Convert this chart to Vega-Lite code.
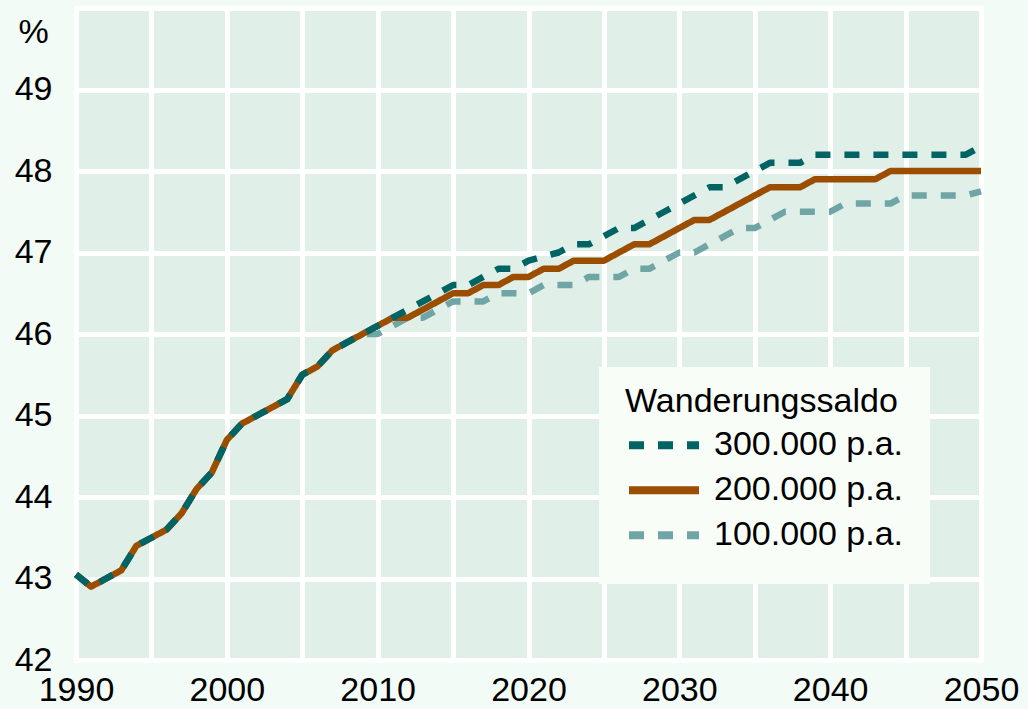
{
  "$schema": "https://vega.github.io/schema/vega-lite/v6.json",
  "width": 905,
  "height": 652,
  "autosize": {"type": "none"},
  "padding": {"left": 76, "top": 8, "right": 47, "bottom": 49},
  "background": "#f2fbf5",
  "config": {
    "font": "Liberation Sans",
    "view": {"fill": "#e0efe7", "stroke": null},
    "axis": {
      "domain": false, "ticks": false, "tickSize": 0, "grid": true, "gridColor": "#ffffff", "gridWidth": 5,
      "gridOpacity": 1, "gridCap": "square", "labelFontSize": 34, "labelColor": "#000000",
      "labelFont": "Liberation Sans", "labelOverlap": false, "labelFlush": false
    },
    "legend": {
      "orient": "none", "legendX": 523, "legendY": 359,
      "fillColor": "#f8fdf8", "padding": 26,
      "titleFontSize": 34, "titleFont": "Liberation Sans", "titleFontWeight": "normal", "titleColor": "#000000",
      "titleBaseline": "line-top", "titleLineHeight": 18, "titlePadding": -4, "titleLimit": 500,
      "labelFontSize": 34, "labelFont": "Liberation Sans", "labelColor": "#000000", "labelOffset": 11, "labelLimit": 500,
      "symbolType": "stroke", "symbolSize": 4900, "symbolStrokeWidth": 8, "clipHeight": 44.5, "rowPadding": 0
    }
  },
  "data": {"values": [
    {"year":1990,"s":"100.000 p.a.","v":43.05},{"year":1991,"s":"100.000 p.a.","v":42.9},{"year":1992,"s":"100.000 p.a.","v":43.0},{"year":1993,"s":"100.000 p.a.","v":43.1},{"year":1994,"s":"100.000 p.a.","v":43.4},{"year":1995,"s":"100.000 p.a.","v":43.5},{"year":1996,"s":"100.000 p.a.","v":43.6},{"year":1997,"s":"100.000 p.a.","v":43.8},{"year":1998,"s":"100.000 p.a.","v":44.1},{"year":1999,"s":"100.000 p.a.","v":44.3},
    {"year":2000,"s":"100.000 p.a.","v":44.7},{"year":2001,"s":"100.000 p.a.","v":44.9},{"year":2002,"s":"100.000 p.a.","v":45.0},{"year":2003,"s":"100.000 p.a.","v":45.1},{"year":2004,"s":"100.000 p.a.","v":45.2},{"year":2005,"s":"100.000 p.a.","v":45.5},{"year":2006,"s":"100.000 p.a.","v":45.6},{"year":2007,"s":"100.000 p.a.","v":45.8},{"year":2008,"s":"100.000 p.a.","v":45.9},{"year":2009,"s":"100.000 p.a.","v":46.0},
    {"year":2010,"s":"100.000 p.a.","v":46.0},{"year":2011,"s":"100.000 p.a.","v":46.1},{"year":2012,"s":"100.000 p.a.","v":46.2},{"year":2013,"s":"100.000 p.a.","v":46.2},{"year":2014,"s":"100.000 p.a.","v":46.3},{"year":2015,"s":"100.000 p.a.","v":46.4},{"year":2016,"s":"100.000 p.a.","v":46.4},{"year":2017,"s":"100.000 p.a.","v":46.4},{"year":2018,"s":"100.000 p.a.","v":46.5},{"year":2019,"s":"100.000 p.a.","v":46.5},
    {"year":2020,"s":"100.000 p.a.","v":46.5},{"year":2021,"s":"100.000 p.a.","v":46.6},{"year":2022,"s":"100.000 p.a.","v":46.6},{"year":2023,"s":"100.000 p.a.","v":46.6},{"year":2024,"s":"100.000 p.a.","v":46.7},{"year":2025,"s":"100.000 p.a.","v":46.7},{"year":2026,"s":"100.000 p.a.","v":46.7},{"year":2027,"s":"100.000 p.a.","v":46.8},{"year":2028,"s":"100.000 p.a.","v":46.8},{"year":2029,"s":"100.000 p.a.","v":46.9},
    {"year":2030,"s":"100.000 p.a.","v":47.0},{"year":2031,"s":"100.000 p.a.","v":47.0},{"year":2032,"s":"100.000 p.a.","v":47.1},{"year":2033,"s":"100.000 p.a.","v":47.2},{"year":2034,"s":"100.000 p.a.","v":47.3},{"year":2035,"s":"100.000 p.a.","v":47.3},{"year":2036,"s":"100.000 p.a.","v":47.4},{"year":2037,"s":"100.000 p.a.","v":47.5},{"year":2038,"s":"100.000 p.a.","v":47.5},{"year":2039,"s":"100.000 p.a.","v":47.5},
    {"year":2040,"s":"100.000 p.a.","v":47.5},{"year":2041,"s":"100.000 p.a.","v":47.6},{"year":2042,"s":"100.000 p.a.","v":47.6},{"year":2043,"s":"100.000 p.a.","v":47.6},{"year":2044,"s":"100.000 p.a.","v":47.6},{"year":2045,"s":"100.000 p.a.","v":47.7},{"year":2046,"s":"100.000 p.a.","v":47.7},{"year":2047,"s":"100.000 p.a.","v":47.7},{"year":2048,"s":"100.000 p.a.","v":47.7},{"year":2049,"s":"100.000 p.a.","v":47.7},{"year":2050,"s":"100.000 p.a.","v":47.75},

    {"year":1990,"s":"200.000 p.a.","v":43.05},{"year":1991,"s":"200.000 p.a.","v":42.9},{"year":1992,"s":"200.000 p.a.","v":43.0},{"year":1993,"s":"200.000 p.a.","v":43.1},{"year":1994,"s":"200.000 p.a.","v":43.4},{"year":1995,"s":"200.000 p.a.","v":43.5},{"year":1996,"s":"200.000 p.a.","v":43.6},{"year":1997,"s":"200.000 p.a.","v":43.8},{"year":1998,"s":"200.000 p.a.","v":44.1},{"year":1999,"s":"200.000 p.a.","v":44.3},
    {"year":2000,"s":"200.000 p.a.","v":44.7},{"year":2001,"s":"200.000 p.a.","v":44.9},{"year":2002,"s":"200.000 p.a.","v":45.0},{"year":2003,"s":"200.000 p.a.","v":45.1},{"year":2004,"s":"200.000 p.a.","v":45.2},{"year":2005,"s":"200.000 p.a.","v":45.5},{"year":2006,"s":"200.000 p.a.","v":45.6},{"year":2007,"s":"200.000 p.a.","v":45.8},{"year":2008,"s":"200.000 p.a.","v":45.9},{"year":2009,"s":"200.000 p.a.","v":46.0},
    {"year":2010,"s":"200.000 p.a.","v":46.1},{"year":2011,"s":"200.000 p.a.","v":46.2},{"year":2012,"s":"200.000 p.a.","v":46.2},{"year":2013,"s":"200.000 p.a.","v":46.3},{"year":2014,"s":"200.000 p.a.","v":46.4},{"year":2015,"s":"200.000 p.a.","v":46.5},{"year":2016,"s":"200.000 p.a.","v":46.5},{"year":2017,"s":"200.000 p.a.","v":46.6},{"year":2018,"s":"200.000 p.a.","v":46.6},{"year":2019,"s":"200.000 p.a.","v":46.7},
    {"year":2020,"s":"200.000 p.a.","v":46.7},{"year":2021,"s":"200.000 p.a.","v":46.8},{"year":2022,"s":"200.000 p.a.","v":46.8},{"year":2023,"s":"200.000 p.a.","v":46.9},{"year":2024,"s":"200.000 p.a.","v":46.9},{"year":2025,"s":"200.000 p.a.","v":46.9},{"year":2026,"s":"200.000 p.a.","v":47.0},{"year":2027,"s":"200.000 p.a.","v":47.1},{"year":2028,"s":"200.000 p.a.","v":47.1},{"year":2029,"s":"200.000 p.a.","v":47.2},
    {"year":2030,"s":"200.000 p.a.","v":47.3},{"year":2031,"s":"200.000 p.a.","v":47.4},{"year":2032,"s":"200.000 p.a.","v":47.4},{"year":2033,"s":"200.000 p.a.","v":47.5},{"year":2034,"s":"200.000 p.a.","v":47.6},{"year":2035,"s":"200.000 p.a.","v":47.7},{"year":2036,"s":"200.000 p.a.","v":47.8},{"year":2037,"s":"200.000 p.a.","v":47.8},{"year":2038,"s":"200.000 p.a.","v":47.8},{"year":2039,"s":"200.000 p.a.","v":47.9},
    {"year":2040,"s":"200.000 p.a.","v":47.9},{"year":2041,"s":"200.000 p.a.","v":47.9},{"year":2042,"s":"200.000 p.a.","v":47.9},{"year":2043,"s":"200.000 p.a.","v":47.9},{"year":2044,"s":"200.000 p.a.","v":48.0},{"year":2045,"s":"200.000 p.a.","v":48.0},{"year":2046,"s":"200.000 p.a.","v":48.0},{"year":2047,"s":"200.000 p.a.","v":48.0},{"year":2048,"s":"200.000 p.a.","v":48.0},{"year":2049,"s":"200.000 p.a.","v":48.0},{"year":2050,"s":"200.000 p.a.","v":48.0},

    {"year":1990,"s":"300.000 p.a.","v":43.05},{"year":1991,"s":"300.000 p.a.","v":42.9},{"year":1992,"s":"300.000 p.a.","v":43.0},{"year":1993,"s":"300.000 p.a.","v":43.1},{"year":1994,"s":"300.000 p.a.","v":43.4},{"year":1995,"s":"300.000 p.a.","v":43.5},{"year":1996,"s":"300.000 p.a.","v":43.6},{"year":1997,"s":"300.000 p.a.","v":43.8},{"year":1998,"s":"300.000 p.a.","v":44.1},{"year":1999,"s":"300.000 p.a.","v":44.3},
    {"year":2000,"s":"300.000 p.a.","v":44.7},{"year":2001,"s":"300.000 p.a.","v":44.9},{"year":2002,"s":"300.000 p.a.","v":45.0},{"year":2003,"s":"300.000 p.a.","v":45.1},{"year":2004,"s":"300.000 p.a.","v":45.2},{"year":2005,"s":"300.000 p.a.","v":45.5},{"year":2006,"s":"300.000 p.a.","v":45.6},{"year":2007,"s":"300.000 p.a.","v":45.8},{"year":2008,"s":"300.000 p.a.","v":45.9},{"year":2009,"s":"300.000 p.a.","v":46.0},
    {"year":2010,"s":"300.000 p.a.","v":46.1},{"year":2011,"s":"300.000 p.a.","v":46.2},{"year":2012,"s":"300.000 p.a.","v":46.3},{"year":2013,"s":"300.000 p.a.","v":46.4},{"year":2014,"s":"300.000 p.a.","v":46.5},{"year":2015,"s":"300.000 p.a.","v":46.6},{"year":2016,"s":"300.000 p.a.","v":46.6},{"year":2017,"s":"300.000 p.a.","v":46.7},{"year":2018,"s":"300.000 p.a.","v":46.8},{"year":2019,"s":"300.000 p.a.","v":46.8},
    {"year":2020,"s":"300.000 p.a.","v":46.9},{"year":2021,"s":"300.000 p.a.","v":46.95},{"year":2022,"s":"300.000 p.a.","v":47.0},{"year":2023,"s":"300.000 p.a.","v":47.1},{"year":2024,"s":"300.000 p.a.","v":47.1},{"year":2025,"s":"300.000 p.a.","v":47.2},{"year":2026,"s":"300.000 p.a.","v":47.3},{"year":2027,"s":"300.000 p.a.","v":47.3},{"year":2028,"s":"300.000 p.a.","v":47.4},{"year":2029,"s":"300.000 p.a.","v":47.5},
    {"year":2030,"s":"300.000 p.a.","v":47.6},{"year":2031,"s":"300.000 p.a.","v":47.7},{"year":2032,"s":"300.000 p.a.","v":47.8},{"year":2033,"s":"300.000 p.a.","v":47.8},{"year":2034,"s":"300.000 p.a.","v":47.9},{"year":2035,"s":"300.000 p.a.","v":48.0},{"year":2036,"s":"300.000 p.a.","v":48.1},{"year":2037,"s":"300.000 p.a.","v":48.1},{"year":2038,"s":"300.000 p.a.","v":48.1},{"year":2039,"s":"300.000 p.a.","v":48.2},
    {"year":2040,"s":"300.000 p.a.","v":48.2},{"year":2041,"s":"300.000 p.a.","v":48.2},{"year":2042,"s":"300.000 p.a.","v":48.2},{"year":2043,"s":"300.000 p.a.","v":48.2},{"year":2044,"s":"300.000 p.a.","v":48.2},{"year":2045,"s":"300.000 p.a.","v":48.2},{"year":2046,"s":"300.000 p.a.","v":48.2},{"year":2047,"s":"300.000 p.a.","v":48.2},{"year":2048,"s":"300.000 p.a.","v":48.2},{"year":2049,"s":"300.000 p.a.","v":48.2},{"year":2050,"s":"300.000 p.a.","v":48.3}
  ]},
  "mark": {"type": "line", "strokeWidth": 6.5, "strokeJoin": "round", "strokeCap": "butt"},
  "encoding": {
    "x": {
      "field": "year", "type": "quantitative",
      "scale": {"domain": [1990, 2050], "nice": false, "zero": false},
      "axis": {
        "title": null,
        "values": [1990, 1995, 2000, 2005, 2010, 2015, 2020, 2025, 2030, 2035, 2040, 2045, 2050],
        "labelExpr": "datum.value % 10 == 0 ? datum.value + '' : ''",
        "labelPadding": 13
      }
    },
    "y": {
      "field": "v", "type": "quantitative",
      "scale": {"domain": [42, 50], "nice": false, "zero": false},
      "axis": {
        "values": [42, 43, 44, 45, 46, 47, 48, 49, 50],
        "labelExpr": "datum.value == 50 ? '' : datum.value + ''",
        "labelPadding": 24,
        "title": "%", "titleAngle": 0, "titleX": -43, "titleY": 34, "titleAlign": "center",
        "titleBaseline": "alphabetic", "titleFontSize": 34, "titleFontWeight": "normal",
        "titleColor": "#000000", "titleFont": "Liberation Sans"
      }
    },
    "color": {
      "field": "s", "type": "nominal", "title": "Wanderungssaldo",
      "scale": {"domain": ["300.000 p.a.", "200.000 p.a.", "100.000 p.a."], "range": ["#006464", "#9b4d00", "#70a5a5"]}
    },
    "strokeDash": {
      "field": "s", "type": "nominal", "title": "Wanderungssaldo",
      "scale": {"domain": ["300.000 p.a.", "200.000 p.a.", "100.000 p.a."], "range": [[15, 14], [1, 0], [15, 14]]}
    }
  }
}
